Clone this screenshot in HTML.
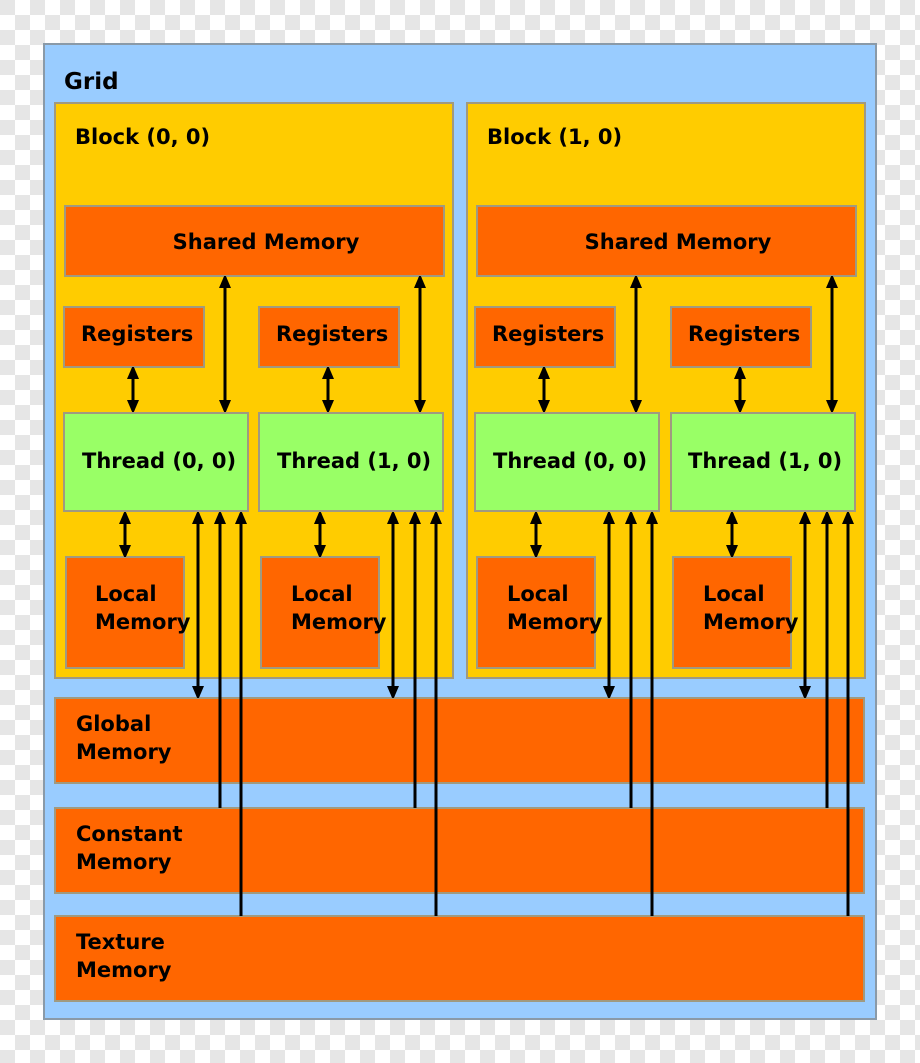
<!DOCTYPE html>
<html><head><meta charset="utf-8"><style>
html,body{margin:0;padding:0}
body{width:920px;height:1063px;overflow:hidden;background-color:#fff;
background-image:linear-gradient(45deg,#e6e6e6 25%,transparent 25%,transparent 75%,#e6e6e6 75%),linear-gradient(45deg,#e6e6e6 25%,transparent 25%,transparent 75%,#e6e6e6 75%);
background-size:30px 30px;background-position:15px 0,0 15px;}
svg{position:absolute;left:0;top:0}
text{font-family:"DejaVu Sans","Liberation Sans",sans-serif;font-weight:bold;font-size:21px;fill:#000}
</style></head><body>
<svg width="920" height="1063" viewBox="0 0 920 1063">
<defs>
<marker id="a" viewBox="0 0 12 14" refX="11" refY="6" markerWidth="12" markerHeight="14" markerUnits="userSpaceOnUse" orient="auto-start-reverse"><path d="M0,0 L14,6 L0,12 z" fill="#000"/></marker>
</defs>
<rect x="44" y="44" width="832" height="975" fill="#99ccff" stroke="#8a9aa8" stroke-width="2"/>
<text x="64" y="89" style="font-size:23px">Grid</text>

<rect x="55" y="103" width="398" height="575" fill="#ffcc00" stroke="#a09a80" stroke-width="2"/>
<rect x="467" y="103" width="398" height="575" fill="#ffcc00" stroke="#a09a80" stroke-width="2"/>
<text x="75" y="144">Block (0, 0)</text>
<text x="487" y="144">Block (1, 0)</text>

<rect x="65" y="206" width="379" height="70" fill="#ff6600" stroke="#a09a80" stroke-width="2"/>
<rect x="477" y="206" width="379" height="70" fill="#ff6600" stroke="#a09a80" stroke-width="2"/>
<text x="266" y="249" text-anchor="middle">Shared Memory</text>
<text x="678" y="249" text-anchor="middle">Shared Memory</text>

<rect x="55" y="698" width="809" height="85" fill="#ff6600" stroke="#a09a80" stroke-width="2"/>
<rect x="55" y="808" width="809" height="85" fill="#ff6600" stroke="#a09a80" stroke-width="2"/>
<rect x="55" y="916" width="809" height="85" fill="#ff6600" stroke="#a09a80" stroke-width="2"/>
<text x="76" y="731">Global</text><text x="76" y="759">Memory</text>
<text x="76" y="841">Constant</text><text x="76" y="869">Memory</text>
<text x="76" y="949">Texture</text><text x="76" y="977">Memory</text>

<g id="t0">
<rect x="64" y="307" width="140" height="60" fill="#ff6600" stroke="#a09a80" stroke-width="2"/>
<rect x="64" y="413" width="184" height="98" fill="#99ff66" stroke="#a09a80" stroke-width="2"/>
<rect x="66" y="557" width="118" height="111" fill="#ff6600" stroke="#a09a80" stroke-width="2"/>
<g stroke="#000" stroke-width="3" fill="none">
<line x1="133" y1="368" x2="133" y2="411" marker-start="url(#a)" marker-end="url(#a)"/>
<line x1="225" y1="277" x2="225" y2="411" marker-start="url(#a)" marker-end="url(#a)"/>
<line x1="125" y1="513" x2="125" y2="556" marker-start="url(#a)" marker-end="url(#a)"/>
<line x1="198" y1="513" x2="198" y2="697" marker-start="url(#a)" marker-end="url(#a)"/>
<line x1="220" y1="808" x2="220" y2="513" marker-end="url(#a)"/>
<line x1="241" y1="916" x2="241" y2="513" marker-end="url(#a)"/>
</g>
</g>
<use href="#t0" x="195"/>
<use href="#t0" x="411"/>
<use href="#t0" x="607"/>

<text x="81" y="341">Registers</text>
<text x="276" y="341">Registers</text>
<text x="492" y="341">Registers</text>
<text x="688" y="341">Registers</text>
<text x="82" y="468">Thread (0, 0)</text>
<text x="277" y="468">Thread (1, 0)</text>
<text x="493" y="468">Thread (0, 0)</text>
<text x="688" y="468">Thread (1, 0)</text>
<text x="95" y="601">Local</text><text x="95" y="629">Memory</text>
<text x="291" y="601">Local</text><text x="291" y="629">Memory</text>
<text x="507" y="601">Local</text><text x="507" y="629">Memory</text>
<text x="703" y="601">Local</text><text x="703" y="629">Memory</text>
</svg>
</body></html>
